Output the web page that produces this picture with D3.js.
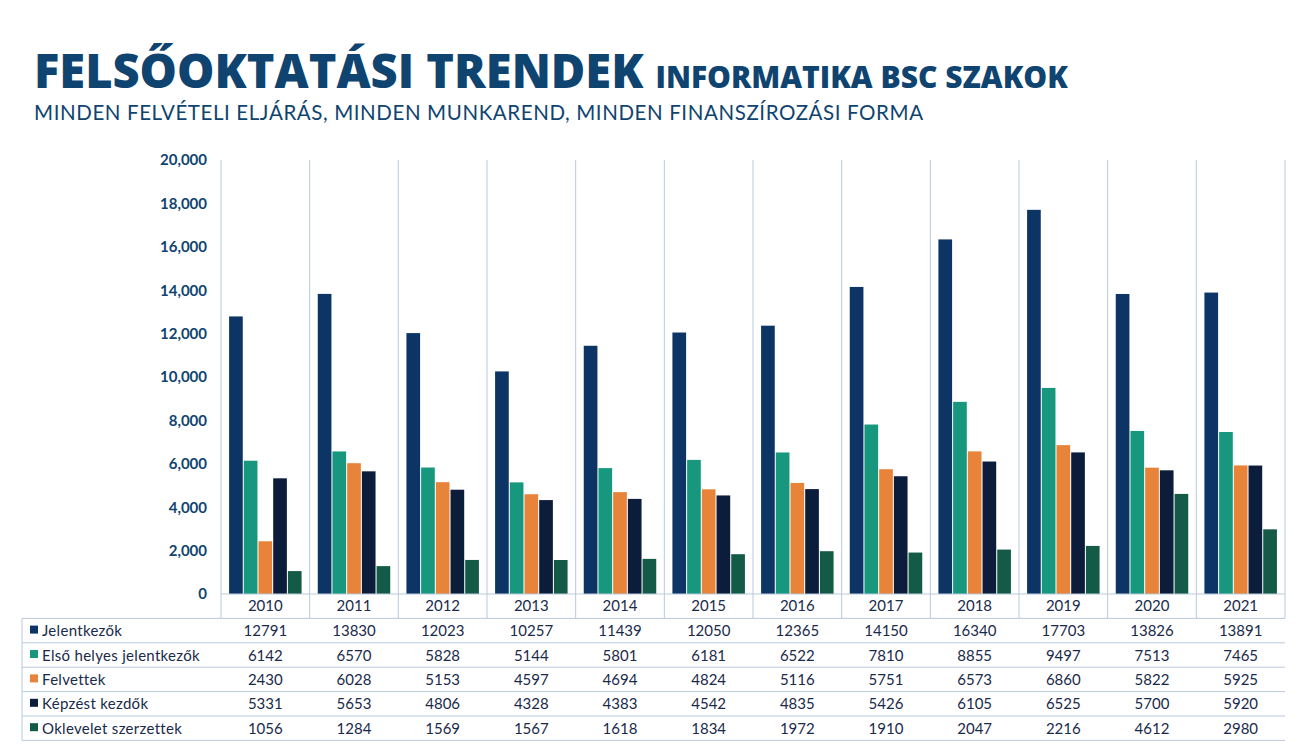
<!DOCTYPE html>
<html><head><meta charset="utf-8">
<script src="https://cdn.jsdelivr.net/npm/d3@7"></script>
<style>body{margin:0;background:#fff;}text{font-family:Lato,"Open Sans",sans-serif;}</style>
</head><body><svg id="chart" width="1300" height="745"></svg>
<script>
const years = ['2010','2011','2012','2013','2014','2015','2016','2017','2018','2019','2020','2021'];
const seriesNames = ['Jelentkezők','Első helyes jelentkezők','Felvettek','Képzést kezdők','Oklevelet szerzettek'];
const jelentkezok = [12791,13830,12023,10257,11439,12050,12365,14150,16340,17703,13826,13891];
const elsoHelyes = [6142,6570,5828,5144,5801,6181,6522,7810,8855,9497,7513,7465];
const felvettek = [2430,6028,5153,4597,4694,4824,5116,5751,6573,6860,5822,5925];
const kepzestKezdok = [5331,5653,4806,4328,4383,4542,4835,5426,6105,6525,5700,5920];
const oklevelet = [1056,1284,1569,1567,1618,1834,1972,1910,2047,2216,4612,2980];
const yTicks = [0,2000,4000,6000,8000,10000,12000,14000,16000,18000,20000];

const series = [jelentkezok, elsoHelyes, felvettek, kepzestKezdok, oklevelet];
const colors = ['#0c3566','#17987e','#e8833a','#0b1d3a','#135a47'];
const titleColor = '#0f4470';
const gridColor = '#b9c9dc';

const svg = d3.select('#chart');
const plotLeft = 221, plotRight = 1285, plotTop = 160, plotBottom = 594, rowH = 24.4, tableLeft = 22;

svg.append('text').attr('x', 34).attr('y', 88)
  .attr('font-weight', 800).attr('font-size', 47)
  .attr('fill', titleColor).style('font-family', '"Open Sans"')
  .text('FELSŐOKTATÁSI TRENDEK')
  .append('tspan').attr('font-size', 30).attr('dx', 12).text('INFORMATIKA BSC SZAKOK');
svg.append('text').attr('x', 34).attr('y', 120)
  .attr('font-size', 20.5).attr('fill', titleColor).attr('letter-spacing', 0.6)
  .text('MINDEN FELVÉTELI ELJÁRÁS, MINDEN MUNKAREND, MINDEN FINANSZÍROZÁSI FORMA');

const x = d3.scaleBand().domain(years).range([plotLeft, plotRight]);
const xi = d3.scaleBand().domain(d3.range(5)).range([0, x.bandwidth()]).paddingOuter(0.55).paddingInner(0.07);
const y = d3.scaleLinear().domain([0, 20000]).range([plotBottom, plotTop]);

// vertical grid lines between years
svg.append('g').selectAll('line').data(d3.range(years.length + 1)).join('line')
  .attr('x1', i => plotLeft + i * x.step()).attr('x2', i => plotLeft + i * x.step())
  .attr('y1', plotTop).attr('y2', plotBottom + rowH)
  .attr('stroke', gridColor).attr('stroke-width', 1);

// bars
series.forEach((vals, s) => {
  svg.append('g').selectAll('rect').data(vals).join('rect')
    .attr('x', (d, i) => x(years[i]) + xi(s))
    .attr('width', xi.bandwidth())
    .attr('y', d => y(d))
    .attr('height', d => plotBottom - y(d))
    .attr('fill', colors[s]);
});

// y axis
const yAxis = d3.axisLeft(y).tickValues(yTicks).tickSize(0).tickPadding(14);
const ya = svg.append('g').attr('transform', `translate(${plotLeft},0)`).call(yAxis);
ya.select('.domain').remove();
ya.selectAll('text').attr('font-size', 15).attr('font-weight', 700).attr('fill', titleColor)
  .style('font-family', 'Lato');

// table
const tbl = svg.append('g');
tbl.append('line').attr('x1', plotLeft).attr('x2', plotRight).attr('y1', plotBottom).attr('y2', plotBottom).attr('stroke', gridColor);
tbl.selectAll('.yr').data(years).join('text')
  .attr('x', d => x(d) + x.bandwidth() / 2).attr('y', plotBottom + 17)
  .attr('text-anchor', 'middle').attr('font-size', 15).attr('fill', '#1a2a4a').text(d => d);
for (let r = 0; r <= 5; r++) {
  tbl.append('line').attr('x1', tableLeft).attr('x2', plotRight)
    .attr('y1', plotBottom + rowH * (r + 1)).attr('y2', plotBottom + rowH * (r + 1)).attr('stroke', gridColor);
}
tbl.append('line').attr('x1', tableLeft).attr('x2', tableLeft)
  .attr('y1', plotBottom + rowH).attr('y2', plotBottom + rowH * 6).attr('stroke', gridColor);
series.forEach((vals, s) => {
  const cy = plotBottom + rowH * (s + 1.5);
  tbl.append('rect').attr('x', 30).attr('y', cy - 5).attr('width', 8).attr('height', 8).attr('fill', colors[s]);
  tbl.append('text').attr('x', 42).attr('y', cy + 5.5).attr('font-size', 15).attr('fill', '#1a2a4a')
    .attr('letter-spacing', 0.3).text(seriesNames[s]);
  tbl.append('g').selectAll('text').data(vals).join('text')
    .attr('x', (d, i) => x(years[i]) + x.bandwidth() / 2).attr('y', cy + 5.5)
    .attr('text-anchor', 'middle').attr('font-size', 15).attr('fill', '#1a2a4a').text(d => d);
});
</script></body></html>
